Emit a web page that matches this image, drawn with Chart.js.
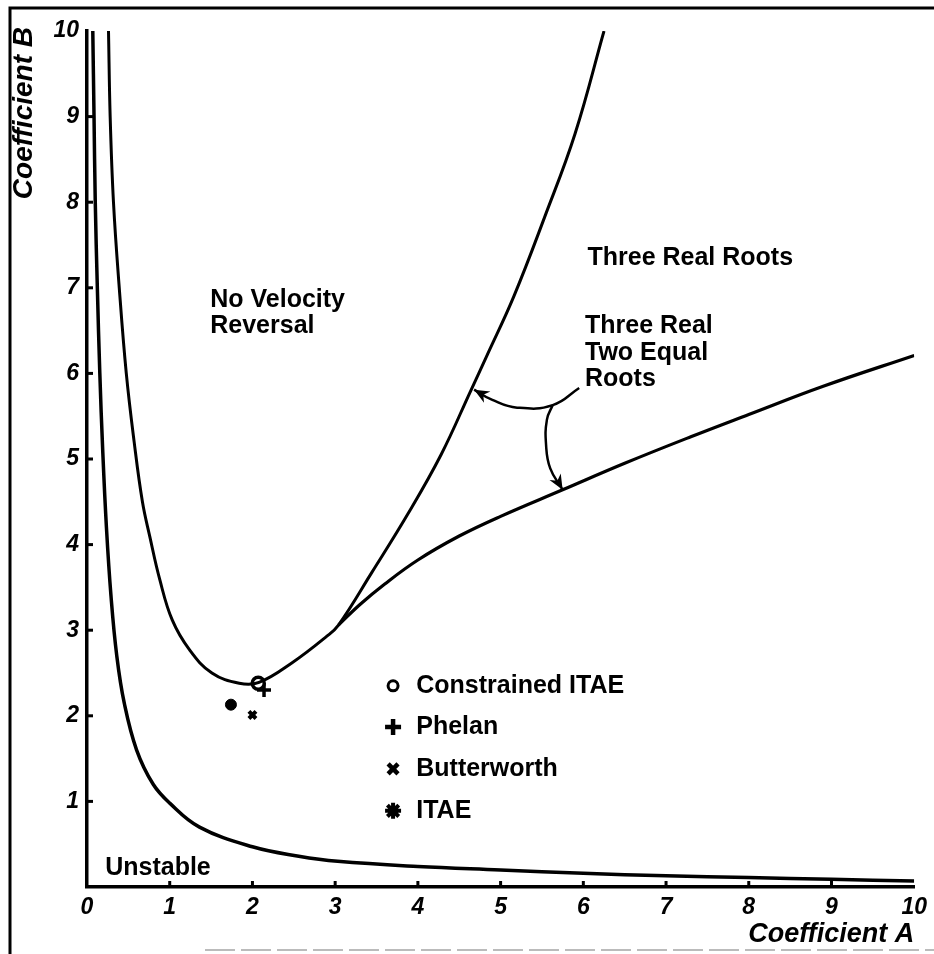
<!DOCTYPE html>
<html><head><meta charset="utf-8">
<script src="https://cdn.jsdelivr.net/npm/chart.js@4.4.1/dist/chart.umd.min.js"></script>
<style>html,body{margin:0;padding:0;background:#fff;overflow:hidden}#wrap{width:934px;height:954px;position:relative}</style>
</head><body><div id="wrap"><canvas id="c" width="934" height="954"></canvas></div>
<script>
// ---- data ----
const tickValues = [0,1,2,3,4,5,6,7,8,9,10];
const xTickLabels = ['0','1','2','3','4','5','6','7','8','9','10'];
const yTickLabels = ['','1','2','3','4','5','6','7','8','9','10'];

// stability boundary (lower curve)
const stabilityA = [0.07,0.085,0.10,0.125,0.155,0.19,0.235,0.29,0.36,0.45,0.60,0.80,1.0,1.36,2.0,2.56,3.03,4.0,5.0,6.0,7.0,8.0,9.0,10];
const stabilityB = [10,9.0,8.0,7.0,6.0,5.1,4.2,3.4,2.7,2.15,1.6,1.2,0.98,0.70,0.47,0.36,0.30,0.24,0.20,0.16,0.13,0.11,0.09,0.07];

// no-velocity-reversal boundary (left branch + steep branch)
const reversalA = [0.26,0.28,0.32,0.39,0.475,0.57,0.67,0.76,0.88,1.03,1.24,1.51,1.84,2.08,2.48,2.90,3.04,3.44,3.88,4.28,4.64,4.84,5.16,5.53,5.90,6.25];
const reversalB = [10,9.0,8.0,7.0,6.0,5.2,4.5,4.09,3.59,3.12,2.77,2.50,2.38,2.39,2.62,2.93,3.06,3.67,4.36,5.05,5.80,6.22,6.90,7.82,8.80,10.0];

// two-equal-roots branch
const equalRootsA = [3.04,3.3,3.6,4.0,4.5,5.0,5.75,6.5,7.3,8.0,8.9,10];
const equalRootsB = [3.06,3.30,3.54,3.82,4.10,4.33,4.64,4.95,5.26,5.52,5.85,6.21];

// annotation arrows
const arrowUpA = [5.95,5.63,5.20,4.90,4.68];
const arrowUpB = [5.83,5.63,5.60,5.69,5.81];
const arrowDownA = [5.63,5.56,5.55,5.60,5.75];
const arrowDownB = [5.63,5.46,5.16,4.89,4.64];

// design points
const markerNames = ['Constrained ITAE','Phelan','Butterworth','ITAE'];
const markerA = [2.07,2.14,2.00,1.74];
const markerB = [2.38,2.30,2.01,2.13];

// ---- helpers ----
const pts = (xs, ys) => xs.map((x, i) => ({x, y: ys[i]}));
const FONT = "'Liberation Sans', Arial, sans-serif";

const markerStyles = [
  {pointStyle:'circle', radius:6, borderWidth:3.5, fill:'#fff'},
  {pointStyle:'cross', radius:7, borderWidth:3.5, fill:'#000'},
  {pointStyle:'crossRot', radius:5, borderWidth:4, fill:'#000'},
  {pointStyle:'circle', radius:5.5, borderWidth:1, fill:'#000'}
];
const legendStyles = [
  {pointStyle:'circle', radius:5, borderWidth:3, fill:'#fff'},
  {pointStyle:'cross', radius:8, borderWidth:4.5, fill:'#000'},
  {pointStyle:'crossRot', radius:7, borderWidth:4.5, fill:'#000'},
  {pointStyle:'star', radius:8, borderWidth:4, fill:'#000'}
];

const regionLabels = [
  {lines:['No Velocity','Reversal'], a:1.49, b:6.86},
  {lines:['Three Real Roots'], a:6.05, b:7.35},
  {lines:['Three Real','Two Equal','Roots'], a:6.02, b:6.55},
  {lines:['Unstable'], a:0.22, b:0.22}
];
const legendLayout = {symbolA:3.70, textA:3.98, rowB:[2.35,1.87,1.38,0.89]};
const yTitle = {text:'Coefficient B', x:24, top:27};

const curveDs = (label, a, b, w) => ({
  label, data: pts(a, b), showLine: true, borderColor:'#000', borderWidth: w,
  pointRadius: 0, pointHoverRadius: 0, tension: 0.4, fill: false
});
const arrowDs = (label, a, b) => ({
  label, data: pts(a, b), showLine: true, borderColor:'#000', borderWidth: 2.5,
  pointRadius: 0, tension: 0.45, fill: false, isArrow: true
});

const datasets = [
  curveDs('Stability', stabilityA, stabilityB, 3.5),
  curveDs('No velocity reversal', reversalA, reversalB, 3),
  curveDs('Two equal roots', equalRootsA, equalRootsB, 3.2),
  arrowDs('arrowUp', arrowUpA, arrowUpB),
  arrowDs('arrowDown', arrowDownA, arrowDownB)
];
markerNames.forEach((n, i) => {
  const s = markerStyles[i];
  datasets.push({label:n, data:[{x:markerA[i], y:markerB[i]}], showLine:false,
    pointStyle:s.pointStyle, pointRadius:s.radius, pointBorderWidth:s.borderWidth,
    pointBorderColor:'#000', pointBackgroundColor:s.fill});
});

const decorPlugin = {
  id:'decor',
  beforeDraw(chart){
    const ctx = chart.ctx; ctx.save(); ctx.fillStyle='#fff'; ctx.fillRect(0,0,chart.width,chart.height); ctx.restore();
  },
  afterDraw(chart){
    const ctx = chart.ctx, xs = chart.scales.x, ys = chart.scales.y;
    ctx.save();
    // page frame
    ctx.strokeStyle='#000'; ctx.lineWidth=3;
    ctx.beginPath(); ctx.moveTo(10,954); ctx.lineTo(10,8); ctx.lineTo(934,8); ctx.stroke();
    ctx.strokeStyle='#bbb'; ctx.lineWidth=2; ctx.setLineDash([30,6]);
    ctx.beginPath(); ctx.moveTo(205,950); ctx.lineTo(934,950); ctx.stroke(); ctx.setLineDash([]);
    // inner tick marks
    ctx.strokeStyle='#000'; ctx.lineWidth=3;
    tickValues.forEach(v => {
      if (v===0 || v===10) return;
      const px = xs.getPixelForValue(v);
      ctx.beginPath(); ctx.moveTo(px, ys.bottom); ctx.lineTo(px, ys.bottom-6); ctx.stroke();
      const py = ys.getPixelForValue(v);
      ctx.beginPath(); ctx.moveTo(xs.left, py); ctx.lineTo(xs.left+6, py); ctx.stroke();
    });
    // arrowheads
    chart.data.datasets.forEach((ds, i) => {
      if (!ds.isArrow) return;
      const el = chart.getDatasetMeta(i).data;
      const p1 = el[el.length-1], p0 = el[el.length-2];
      const ang = Math.atan2(p1.y-p0.y, p1.x-p0.x);
      const L = 15, W = 6.5;
      ctx.save(); ctx.translate(p1.x, p1.y); ctx.rotate(ang);
      ctx.fillStyle='#000'; ctx.beginPath();
      ctx.moveTo(0,0); ctx.lineTo(-L, -W); ctx.lineTo(-L*0.7, 0); ctx.lineTo(-L, W); ctx.closePath(); ctx.fill();
      ctx.restore();
    });
    // y-axis title
    ctx.fillStyle='#000';
    ctx.save(); ctx.translate(yTitle.x, yTitle.top); ctx.rotate(-Math.PI/2);
    ctx.font = 'italic bold 28px ' + FONT; ctx.textAlign='right'; ctx.textBaseline='middle';
    ctx.fillText(yTitle.text, 0, 0); ctx.restore();
    // region labels
    ctx.font = 'bold 25px ' + FONT; ctx.textBaseline='middle'; ctx.textAlign='left';
    regionLabels.forEach(r => {
      const x = xs.getPixelForValue(r.a), y = ys.getPixelForValue(r.b);
      r.lines.forEach((t, k) => ctx.fillText(t, x, y + k*26.5));
    });
    // legend of design points
    const sx = xs.getPixelForValue(legendLayout.symbolA), tx = xs.getPixelForValue(legendLayout.textA);
    markerNames.forEach((n, i) => {
      const y = ys.getPixelForValue(legendLayout.rowB[i]);
      const s = legendStyles[i];
      ctx.lineWidth = s.borderWidth; ctx.strokeStyle='#000'; ctx.fillStyle = s.fill;
      Chart.helpers.drawPoint(ctx, {pointStyle:s.pointStyle, radius:s.radius, borderWidth:s.borderWidth, rotation:0}, sx, y);
      ctx.fillStyle='#000';
      ctx.fillText(n, tx, y);
    });
    ctx.restore();
  }
};

new Chart(document.getElementById('c'), {
  type:'scatter',
  data:{datasets},
  options:{
    responsive:false, animation:false, devicePixelRatio:1,
    layout:{padding:{left:10, right:15, top:31, bottom:2}},
    plugins:{legend:{display:false}, tooltip:{enabled:false}},
    scales:{
      x:{type:'linear', min:0, max:10,
        afterBuildTicks: s => { s.ticks = tickValues.map(v => ({value:v})); },
        afterFit: s => { s.height = 65; },
        grid:{display:false, drawTicks:false},
        border:{display:true, color:'#000', width:3.5},
        ticks:{callback:(v)=> xTickLabels[tickValues.indexOf(v)], color:'#000', padding:7, maxRotation:0,
          font:{family:FONT, size:23, weight:'bold', style:'italic'}},
        title:{display:true, text:'Coefficient A', align:'end', color:'#000', padding:{top:0,bottom:1},
          font:{family:FONT, size:27, weight:'bold', style:'italic'}}
      },
      y:{type:'linear', min:0, max:10,
        afterBuildTicks: s => { s.ticks = tickValues.map(v => ({value:v})); },
        afterFit: s => { s.width = 77; },
        grid:{display:false, drawTicks:false},
        border:{display:true, color:'#000', width:3.5},
        ticks:{callback:(v)=> yTickLabels[tickValues.indexOf(v)], color:'#000', padding:8,
          font:{family:FONT, size:23, weight:'bold', style:'italic'}},
        title:{display:false}
      }
    }
  },
  plugins:[decorPlugin]
});
</script></body></html>
